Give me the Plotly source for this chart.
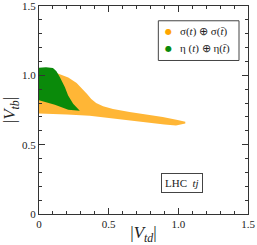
import plotly.graph_objects as go

# Allowed region boundaries (|V_td|, |V_tb|)
orange_x = [0.0, 0.1, 0.126, 0.21, 0.27, 0.31, 0.345, 0.375, 0.41, 0.46, 0.531, 0.65, 0.769, 0.888, 0.995, 1.05,
            1.05, 0.983, 0.9, 0.769, 0.531, 0.364, 0.2, 0.0]
orange_y = [1.03, 1.03, 1.017, 0.985, 0.945, 0.905, 0.865, 0.83, 0.80, 0.777, 0.758, 0.736, 0.719, 0.70, 0.678, 0.665,
            0.652, 0.638, 0.645, 0.66, 0.684, 0.708, 0.718, 0.724]

green_x = [0.0, 0.05, 0.1, 0.125, 0.15, 0.186, 0.209, 0.245, 0.293,
           0.21, 0.114, 0.0]
green_y = [1.055, 1.058, 1.052, 1.03, 0.986, 0.914, 0.855, 0.795, 0.745,
           0.752, 0.788, 0.82]

legend_labels = ["σ(<i>t</i>) ⊕ σ(<i>t̄</i>)", "η (<i>t</i>) ⊕ η(<i>t̄</i>)"]
tick_vals = [0, 0.5, 1.0, 1.5]
tick_text = ["0", "0.5", "1.0", "1.5"]

ORANGE = "#FFA500"
ORANGE_FILL = "#FFB636"
GREEN = "#0A8A0A"
FONT = "Liberation Serif"
TXT = "#222"

fig = go.Figure()
fig.add_trace(go.Scatter(x=orange_x, y=orange_y, fill="toself", mode="lines",
                         line=dict(width=0, color=ORANGE), fillcolor=ORANGE_FILL,
                         showlegend=False, hoverinfo="skip"))
fig.add_trace(go.Scatter(x=green_x, y=green_y, fill="toself", mode="lines",
                         line=dict(width=0, color=GREEN), fillcolor=GREEN,
                         showlegend=False, hoverinfo="skip"))

axis_common = dict(
    range=[0, 1.5], tickvals=tick_vals, ticktext=tick_text,
    ticks="inside", ticklen=6, tickcolor="#333", tickwidth=1,
    minor=dict(dtick=0.1, tick0=0, ticks="inside", ticklen=3, tickcolor="#333"),
    showline=True, linecolor="#333", linewidth=1, mirror="allticks",
    showgrid=False, zeroline=False, automargin=False, ticklabeloverflow="allow",
    tickfont=dict(family=FONT, size=11, color=TXT),
)

# Manual legend (box, markers, labels) in paper coordinates
lx0, lx1, ly0, ly1 = 0.571, 0.957, 0.738, 0.929
legend_rows = [0.876, 0.795]
legend_colors = [ORANGE, GREEN]

shapes = [dict(type="rect", xref="paper", yref="paper", x0=lx0, x1=lx1, y0=ly0, y1=ly1,
               line=dict(color="#444", width=1), fillcolor="white", layer="above")]
annotations = []
for lab, col, yy in zip(legend_labels, legend_colors, legend_rows):
    annotations.append(dict(x=lx0 + 0.048, y=yy, xref="paper", yref="paper", text="●",
                            showarrow=False, font=dict(family="DejaVu Sans", size=8, color=col),
                            xanchor="center", yanchor="middle"))
    annotations.append(dict(x=lx0 + 0.095, y=yy, xref="paper", yref="paper", text=lab,
                            showarrow=False, font=dict(family=FONT, size=11, color=TXT),
                            xanchor="left", yanchor="middle"))
annotations.append(dict(x=0.783, y=0.1, xref="paper", yref="paper",
                        text="LHC  <i>tj</i>", showarrow=False,
                        font=dict(family=FONT, size=11, color=TXT),
                        bordercolor="#444", borderwidth=1, borderpad=3, bgcolor="white"))

fig.update_layout(
    width=257, height=245,
    margin=dict(l=39, r=9, t=6, b=31, autoexpand=False),
    paper_bgcolor="white", plot_bgcolor="white",
    xaxis=dict(**axis_common,
               title=dict(text="|<i>V</i><sub><i>td</i></sub>|", standoff=0,
                          font=dict(family=FONT, size=17, color=TXT))),
    yaxis=dict(**axis_common,
               title=dict(text="|<i>V</i><sub><i>tb</i></sub>|", standoff=2,
                          font=dict(family=FONT, size=17, color=TXT))),
    showlegend=False,
    shapes=shapes,
    annotations=annotations,
)

fig.write_html("out.html", config={"displayModeBar": False},
               post_script="document.body.style.margin='0';document.body.style.overflow='hidden';")
